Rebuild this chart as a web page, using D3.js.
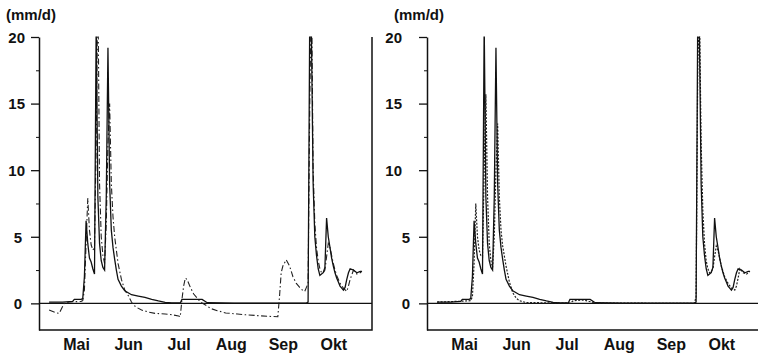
<!DOCTYPE html>
<html lang="de">
<head>
<meta charset="UTF-8">
<title>Abfluss (mm/d)</title>
<style>
  body, html { margin: 0; padding: 0; background: #fff; }
  svg { display: block; }
  text { font-family: "Liberation Sans", Arial, sans-serif; fill: #111; }
  .tick text { font-size: 15px; font-weight: bold; }
  .unit { font-size: 15px; font-weight: bold; }
  .frame { fill: none; stroke: #111; stroke-width: 1.5px; }
  .zero { stroke: #111; stroke-width: 1.3px; }
  .obs { fill: none; stroke: #111; stroke-width: 1.3px; }
  .simL { fill: none; stroke: #222; stroke-width: 1.1px; stroke-dasharray: 6 2.5 1.5 2.5; }
  .simR { fill: none; stroke: #222; stroke-width: 1.2px; stroke-dasharray: 2 1.5; }
</style>
</head>
<body>
<script src="https://cdnjs.cloudflare.com/ajax/libs/d3/7.8.5/d3.min.js"></script>
<script>
// month labels (placed mid-month) and y ticks
const months = ["Mai", "Jun", "Jul", "Aug", "Sep", "Okt"];
const yTicks = [0, 5, 10, 15, 20];
const yMinor = [2.5, 7.5, 12.5, 17.5];

// observed runoff (solid), both panels
const observed = [
  ["04-30", 0.1], ["05-08", 0.1], ["05-14", 0.15], ["05-15", 0.3], ["05-19", 0.3],
  ["05-20", 0.35], ["05-21", 2.0], ["05-22", 6.2], ["05-23", 4.5], ["05-24", 3.4],
  ["05-25", 3.1], ["05-26", 2.6], ["05-27", 2.2], ["05-28", 21], ["05-29", 8],
  ["05-30", 4.5], ["05-31", 3.2], ["06-01", 2.7], ["06-02", 2.5], ["06-03", 8],
  ["06-04", 19.2], ["06-05", 9], ["06-06", 5.5], ["06-07", 4.2], ["06-08", 3.3],
  ["06-09", 2.5], ["06-10", 1.8], ["06-12", 1.3], ["06-14", 0.95], ["06-18", 0.65],
  ["06-22", 0.55], ["06-26", 0.45], ["06-30", 0.3], ["07-04", 0.18], ["07-08", 0.08],
  ["07-12", 0.03], ["07-17", 0.03], ["07-18", 0.3], ["07-30", 0.3], ["08-02", 0.05],
  ["08-18", 0.02], ["09-30", 0.02], ["10-01", 0.1], ["10-02", 22], ["10-03", 20],
  ["10-04", 9], ["10-05", 5], ["10-06", 3.6], ["10-07", 2.6], ["10-08", 2.1],
  ["10-09", 2.2], ["10-10", 2.3], ["10-11", 2.7], ["10-12", 6.4], ["10-13", 5.0],
  ["10-14", 4.2], ["10-15", 3.4], ["10-16", 2.8], ["10-17", 2.3], ["10-18", 1.9],
  ["10-19", 1.6], ["10-20", 1.3], ["10-21", 1.15], ["10-22", 1.0], ["10-23", 1.2],
  ["10-24", 1.8], ["10-25", 2.3], ["10-26", 2.6], ["10-28", 2.5], ["10-30", 2.3],
  ["11-01", 2.4], ["11-02", 2.4]
];

// simulation, left panel (dash-dot)
const simLeft = [
  ["04-30", -0.5], ["05-04", -0.7], ["05-06", -0.75], ["05-09", 0.0], ["05-12", 0.1],
  ["05-19", 0.15], ["05-20", 0.2], ["05-21", 1.0], ["05-22", 4.5], ["05-23", 7.9],
  ["05-24", 5.5], ["05-25", 4.4], ["05-26", 4.0], ["05-27", 4.2], ["05-28", 12],
  ["05-29", 24], ["05-30", 9], ["05-31", 5], ["06-01", 3.6], ["06-02", 3.0],
  ["06-03", 6], ["06-04", 12], ["06-05", 15], ["06-06", 9], ["06-07", 6.5],
  ["06-08", 5.0], ["06-09", 4.0], ["06-10", 3.0], ["06-11", 2.4], ["06-12", 1.8],
  ["06-14", 1.0], ["06-16", 0.6], ["06-18", 0.1], ["06-19", -0.1], ["06-21", -0.3],
  ["06-24", -0.5], ["06-28", -0.65], ["07-02", -0.75], ["07-08", -0.8], ["07-12", -0.85],
  ["07-16", -0.95], ["07-17", -1.0], ["07-18", 0.3], ["07-19", 1.3], ["07-20", 1.9],
  ["07-21", 1.8], ["07-23", 1.2], ["07-25", 0.7], ["07-27", 0.4], ["07-29", 0.1],
  ["07-31", -0.05], ["08-02", -0.2], ["08-04", -0.38], ["08-08", -0.55], ["08-13", -0.72],
  ["08-20", -0.8], ["08-25", -0.86], ["09-01", -0.92], ["09-08", -0.98], ["09-13", -1.0],
  ["09-14", 0.5], ["09-15", 2.3], ["09-16", 2.8], ["09-18", 3.27], ["09-20", 2.8],
  ["09-22", 2.0], ["09-24", 1.5], ["09-26", 1.2], ["09-28", 0.95], ["09-29", 0.9],
  ["09-30", 1.2], ["10-01", 1.5], ["10-02", 15], ["10-03", 24], ["10-04", 10],
  ["10-05", 6], ["10-06", 4.2], ["10-07", 3.2], ["10-08", 2.6], ["10-09", 2.3],
  ["10-10", 2.3], ["10-11", 2.5], ["10-12", 3.5], ["10-13", 4.5], ["10-14", 4.2],
  ["10-15", 3.6], ["10-16", 3.0], ["10-17", 2.5], ["10-18", 2.1], ["10-20", 1.5],
  ["10-22", 1.15], ["10-24", 0.9], ["10-25", 1.3], ["10-26", 1.8], ["10-28", 2.5],
  ["10-30", 2.2], ["11-01", 2.3], ["11-02", 2.4]
];

// simulation, right panel (dotted)
const simRight = [
  ["04-30", 0.1], ["05-12", 0.15], ["05-20", 0.2], ["05-21", 0.5], ["05-22", 3.0],
  ["05-23", 7.5], ["05-24", 5], ["05-25", 4.0], ["05-26", 3.6], ["05-27", 3.5],
  ["05-28", 10], ["05-29", 15.7], ["05-30", 8], ["05-31", 4.5], ["06-01", 3.2],
  ["06-02", 2.7], ["06-03", 5], ["06-04", 10], ["06-05", 13.5], ["06-06", 8],
  ["06-07", 5.5], ["06-08", 4.3], ["06-10", 2.8], ["06-12", 1.6], ["06-14", 0.8],
  ["06-16", 0.4], ["06-18", 0.2], ["06-22", 0.06], ["07-18", 0.02], ["07-20", 0.2],
  ["07-26", 0.25], ["07-31", 0.1], ["08-04", 0.02], ["09-30", 0.0], ["10-01", 0.5],
  ["10-02", 18], ["10-03", 22], ["10-04", 12], ["10-05", 7], ["10-06", 4.5],
  ["10-07", 3.2], ["10-08", 2.6], ["10-09", 2.3], ["10-10", 2.4], ["10-11", 2.6],
  ["10-12", 3.5], ["10-13", 4.3], ["10-14", 4.0], ["10-15", 3.4], ["10-16", 2.8],
  ["10-18", 2.0], ["10-20", 1.5], ["10-22", 1.15], ["10-24", 1.0], ["10-25", 1.3],
  ["10-26", 1.9], ["10-27", 2.6], ["10-29", 2.3], ["10-31", 2.2], ["11-02", 2.4]
];

const W = 758, H = 356;
const plotTop = 37, plotBottom = 330, plotW = 333;
const parse = d3.timeParse("%m-%d");

const x = d3.scaleTime()
  .domain([new Date(1900, 3, 24), new Date(1900, 10, 8)])
  .range([0, plotW]);
const y = d3.scaleLinear().domain([-2, 20]).range([plotBottom, plotTop]);

const svg = d3.select("body").append("svg")
  .attr("width", W).attr("height", H);

svg.append("defs").append("clipPath").attr("id", "plotclip")
  .append("rect").attr("x", 0).attr("y", plotTop - 0.5)
  .attr("width", plotW).attr("height", plotBottom - plotTop);

const line = d3.line()
  .x(d => x(parse(d[0])))
  .y(d => y(d[1]));

function drawPanel(left, sim, simClass, wideOffset) {
  const g = svg.append("g").attr("transform", `translate(${left},0)`);

  g.append("text").attr("class", "unit")
    .attr("x", -33).attr("y", 20).text("(mm/d)");

  // y axis with major + minor ticks
  const ya = g.append("g").call(d3.axisLeft(y).tickValues(yTicks).tickSize(8).tickSizeOuter(0));
  ya.select(".domain").attr("stroke", "#111").attr("stroke-width", 1.5);
  ya.selectAll(".tick line").attr("stroke", "#111").attr("stroke-width", 1.3);
  ya.selectAll(".tick text")
    .attr("x", d => d < 10 ? -17 : wideOffset)
    .attr("dy", "0.36em");

  g.append("g").call(d3.axisLeft(y).tickValues(yMinor).tickSize(3).tickFormat(""))
    .call(s => s.select(".domain").remove())
    .selectAll("line").attr("stroke", "#111");

  // bottom line and right border
  g.append("path").attr("class", "frame")
    .attr("d", `M0,${plotBottom}H${plotW}V${plotTop}`);

  // month labels
  const xa = g.append("g").attr("transform", `translate(0,${plotBottom})`)
    .call(d3.axisBottom(x)
      .tickValues(months.map((m, i) => new Date(1900, 4 + i, 16)))
      .tickFormat((d, i) => months[i])
      .tickSize(0));
  xa.select(".domain").remove();
  xa.selectAll(".tick text").attr("dy", null).attr("y", 20).style("font-size", "16px");

  // zero line
  g.append("line").attr("class", "zero")
    .attr("x1", 0).attr("x2", plotW)
    .attr("y1", y(0)).attr("y2", y(0));

  const plot = g.append("g").attr("clip-path", "url(#plotclip)");
  plot.append("path").datum(sim).attr("class", simClass).attr("d", line);
  plot.append("path").datum(observed).attr("class", "obs").attr("d", line);
}

drawPanel(39, simLeft, "simL", -14);
drawPanel(427, simRight, "simR", -25);
</script>
</body>
</html>
